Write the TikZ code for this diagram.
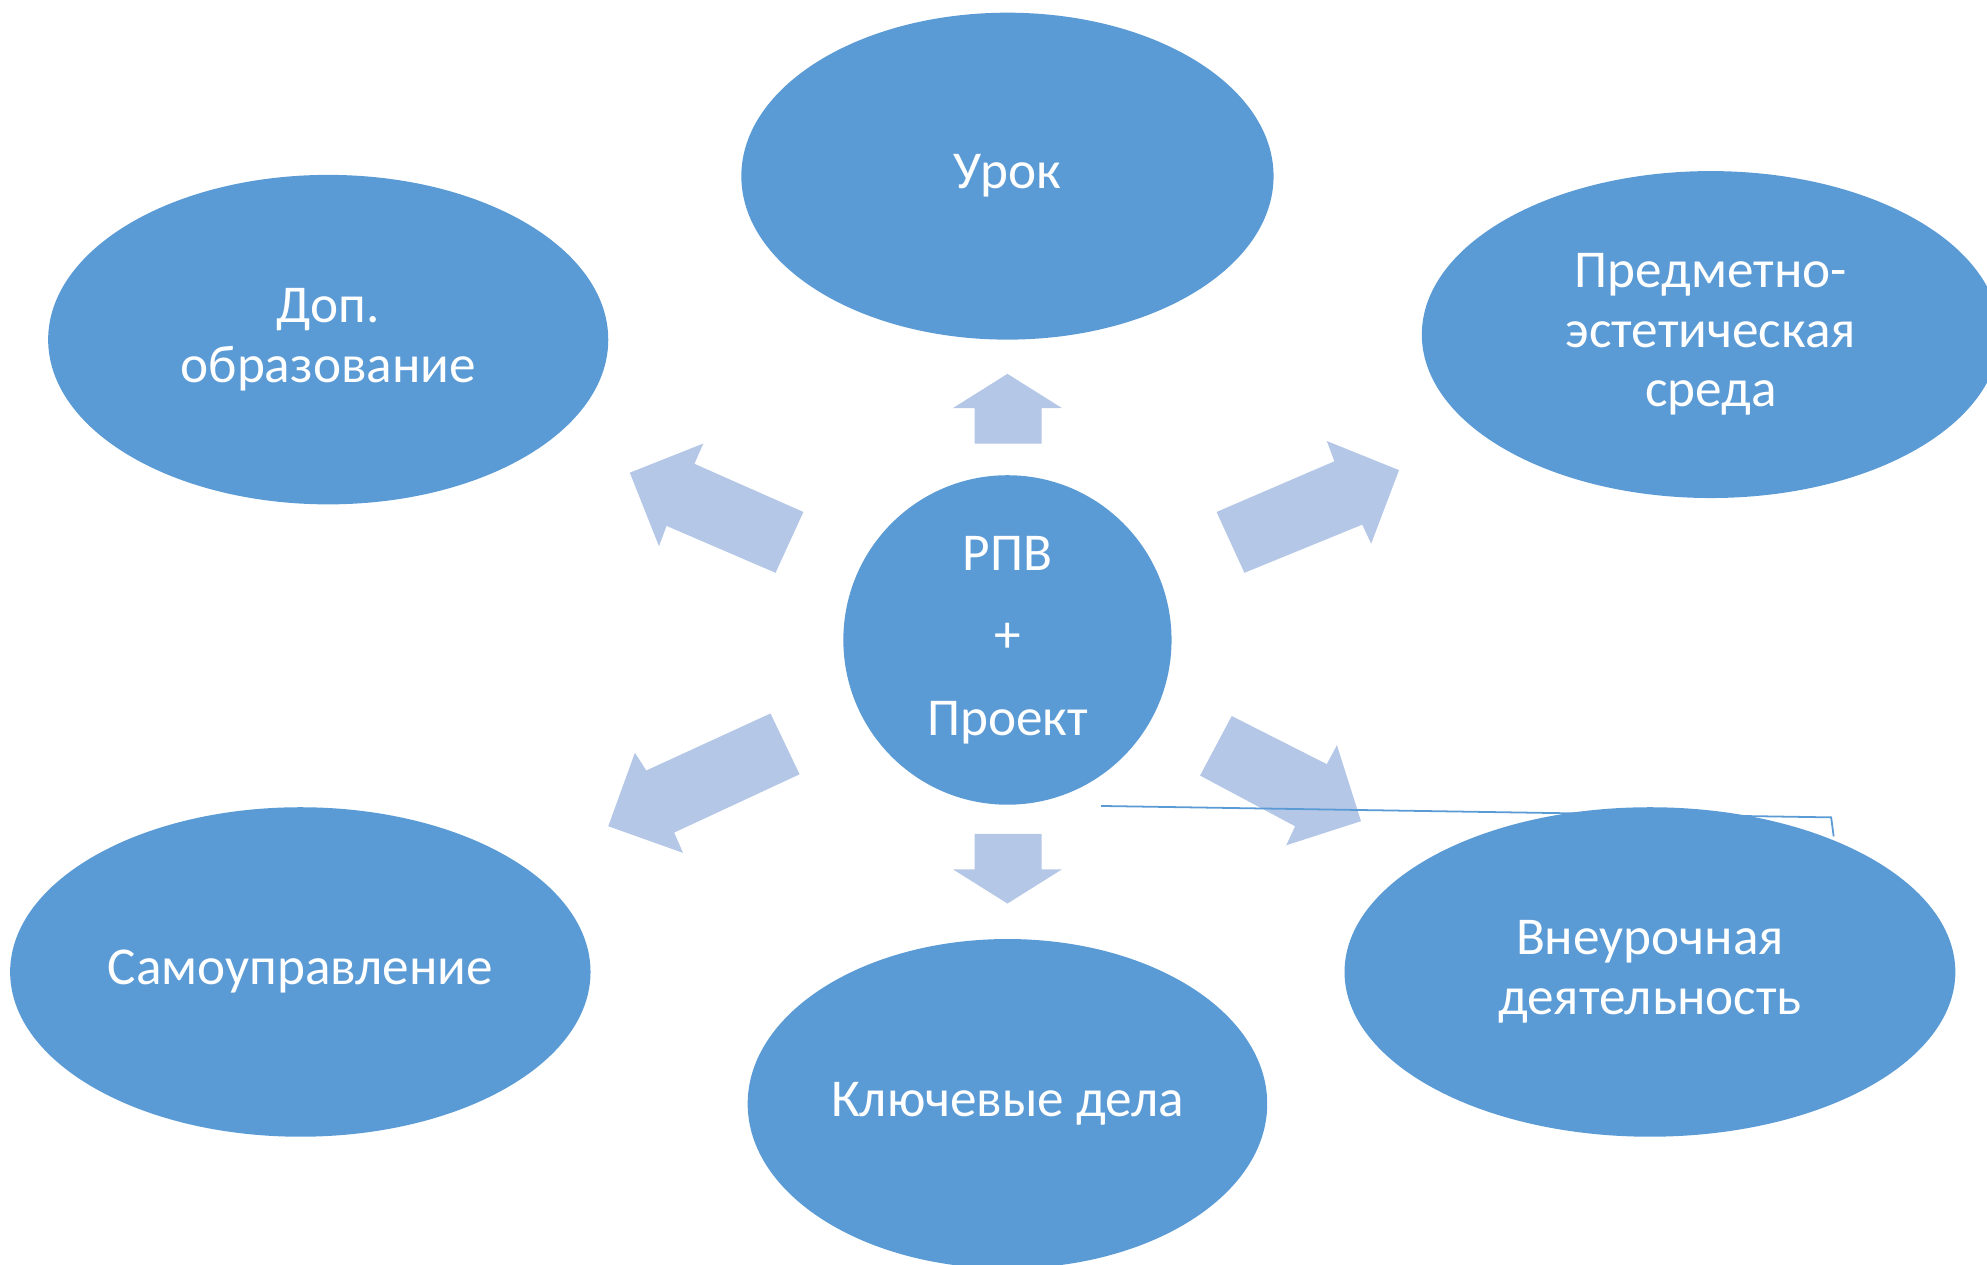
\documentclass[tikz,border=0pt]{standalone}
\usepackage{fontspec}
\setmainfont{Carlito}
\usetikzlibrary{shapes.geometric}
\definecolor{ovalblue}{HTML}{5B9BD5}
\definecolor{arrowblue}{HTML}{B4C7E7}

\begin{document}
\begin{tikzpicture}[x=0.5pt,y=-0.5pt,
    oval/.style={ellipse, fill=ovalblue, text=white, inner sep=0pt, align=center,
        font=\fontsize{21}{23.5}\selectfont},
    blockarrow/.style={fill=arrowblue},
    strayline/.style={draw=ovalblue, line width=0.7pt}
]
    \useasboundingbox (0,0) rectangle (1568,998);
    % block arrows round the centre
    \fill[blockarrow] (769,350) -- (769,322) -- (752,322) -- (795,295) -- (838,322) -- (822,322) -- (822,350) -- cycle;
    \fill[blockarrow] (769,658) -- (769,686) -- (752,686) -- (795,713) -- (838,686) -- (822,686) -- (822,658) -- cycle;
    \fill[blockarrow] (634,404) -- (548,366) -- (555,350) -- (497,373) -- (520,431) -- (526,415) -- (612,452) -- cycle;
    \fill[blockarrow] (960,404) -- (1053,364) -- (1047,348) -- (1104,371) -- (1082,429) -- (1075,414) -- (982,452) -- cycle;
    \fill[blockarrow] (608,563) -- (510,608) -- (501,594) -- (480,652) -- (539,673) -- (532,657) -- (631,611) -- cycle;
    \fill[blockarrow] (972,565) -- (1047,603) -- (1055,588) -- (1074,648) -- (1015,667) -- (1022,652) -- (947,612) -- cycle;
    % thin line under the ovals
    \coordinate (linestart) at (869,636);
    \coordinate (linebend) at (1445,645);
    \coordinate (lineend) at (1447,660);
    \draw[strayline] (linestart) -- (linebend) -- (lineend);
    % ovals
    \node[oval, minimum width=210pt, minimum height=129pt] (urok) at (795,139) {\raisebox{-1pt}{Урок}};
    \node[oval, minimum width=221pt, minimum height=130pt] (dop) at (259,268) {Доп.\\образование};
    \node[oval, minimum width=228pt, minimum height=129pt] (sreda) at (1350,264) {Предметно-\\эстетическая\\среда};
    \node[oval, minimum width=229pt, minimum height=130pt] (samo) at (237,767) {\raisebox{-1pt}{Самоуправление}};
    \node[oval, minimum width=205pt, minimum height=130pt] (dela) at (795,871) {\raisebox{-1pt}{Ключевые дела}};
    \node[oval, minimum width=241pt, minimum height=130pt] (vneur) at (1302,767) {Внеурочная\\деятельность};
    \node[oval, minimum width=129.5pt, minimum height=130pt, font=\fontsize{21}{32.5}\selectfont] (rpv) at (795,505) {РПВ\\+\\Проект};
\end{tikzpicture}
\end{document}
